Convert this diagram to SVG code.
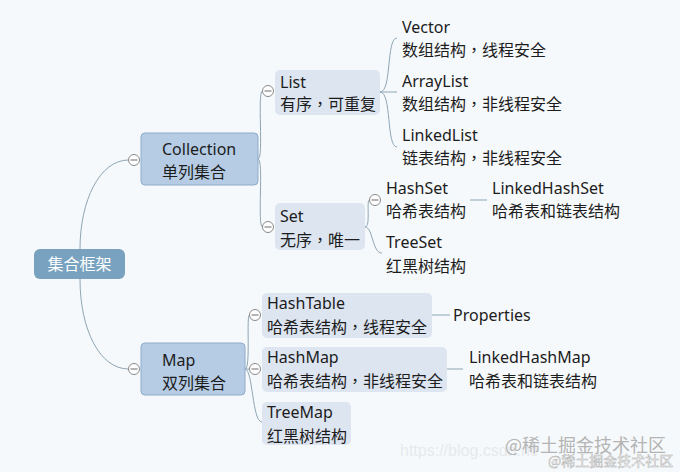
<svg xmlns="http://www.w3.org/2000/svg" width="680" height="472" viewBox="0 0 680 472">
<style>
text{font-family:"Noto Sans","Noto Sans CJK SC",sans-serif;font-size:16px;fill:#1c1c1c}
.cm{font-family:"Noto Sans CJK TC",sans-serif}
.root{fill:#78a2c0}
.main{fill:#b5cce4;stroke:#8eabcb;stroke-width:1}
.sub{fill:#dde5f0}
.con{fill:none;stroke:#8ea5b4;stroke-width:1}
.cc{fill:#fff;stroke:#8a8a8a;stroke-width:1}
.wm{font-family:"Noto Sans CJK SC",sans-serif;fill:#b4b4b4}
</style>
<defs>
<g id="col"><circle class="cc" cx="0" cy="0" r="5.5"/><line x1="-3.5" y1="0" x2="3.5" y2="0" stroke="#6a6a6a" stroke-width="1"/></g>
</defs>
<rect width="680" height="472" fill="#f6f9fb"/>
<g id="connectors">
<path class="con" d="M80,249 C80,200 100,160 128.5,160"/>
<path class="con" d="M80,279 C80,330 100,369 128.5,369"/>
<path class="con" d="M258,159 C264,159 257,91 262.5,91"/>
<path class="con" d="M258,159 C264,159 257,227 262.5,227"/>
<path class="con" d="M380,92 C392,92 386,38 397,38"/>
<path class="con" d="M380,92 L397,92"/>
<path class="con" d="M380,92 C392,92 386,147 397,147"/>
<path class="con" d="M365,227 C371,227 366,200 369.5,200"/>
<path class="con" d="M365,227 C373,227 372,253 382,253"/>
<path class="con" d="M470,200 L487,200"/>
<path class="con" d="M245,369 C251,369 246,315 249.5,315"/>
<path class="con" d="M245,369 L249.5,369"/>
<path class="con" d="M245,369 C253,369 252,422 262,422"/>
<path class="con" d="M432,315 L450,315"/>
<path class="con" d="M447,369 L463,369"/>
</g>
<g id="root">
<rect class="root" x="34" y="249" width="91" height="30" rx="6"/>
<text x="79.5" y="270" text-anchor="middle" style="fill:#fff">集合框架</text>
</g>
<g id="collection">
<rect class="main" x="141" y="133" width="117" height="52" rx="4"/>
<text x="162" y="155">Collection</text>
<text x="162" y="178">单列集合</text>
<use href="#col" x="134" y="160"/>
</g>
<g id="map">
<rect class="main" x="141" y="343" width="104" height="52" rx="4"/>
<text x="162" y="366">Map</text>
<text x="162" y="389">双列集合</text>
<use href="#col" x="134" y="369"/>
</g>
<g id="list">
<rect class="sub" x="275" y="70" width="105" height="45" rx="5"/>
<text x="280" y="88">List</text>
<text x="280" y="110">有序<tspan class="cm">，</tspan>可重复</text>
<use href="#col" x="268" y="91"/>
</g>
<g id="set">
<rect class="sub" x="275" y="203" width="90" height="47" rx="5"/>
<text x="280" y="222">Set</text>
<text x="280" y="246">无序<tspan class="cm">，</tspan>唯一</text>
<use href="#col" x="268" y="227"/>
</g>
<g id="vector">
<text x="402" y="33">Vector</text>
<text x="402" y="56">数组结构<tspan class="cm">，</tspan>线程安全</text>
</g>
<g id="arraylist">
<text x="402" y="87">ArrayList</text>
<text x="402" y="110">数组结构<tspan class="cm">，</tspan>非线程安全</text>
</g>
<g id="linkedlist">
<text x="402" y="141">LinkedList</text>
<text x="402" y="164">链表结构<tspan class="cm">，</tspan>非线程安全</text>
</g>
<g id="hashset">
<text x="386" y="194">HashSet</text>
<text x="386" y="217">哈希表结构</text>
<use href="#col" x="375" y="200"/>
</g>
<g id="linkedhashset">
<text x="492" y="194">LinkedHashSet</text>
<text x="492" y="217">哈希表和链表结构</text>
</g>
<g id="treeset">
<text x="386" y="248">TreeSet</text>
<text x="386" y="272">红黑树结构</text>
</g>
<g id="hashtable">
<rect class="sub" x="262" y="293" width="170" height="45" rx="5"/>
<text x="267" y="309">HashTable</text>
<text x="267" y="333">哈希表结构<tspan class="cm">，</tspan>线程安全</text>
<use href="#col" x="255" y="315"/>
</g>
<g id="properties">
<text x="453" y="321">Properties</text>
</g>
<g id="hashmap">
<rect class="sub" x="262" y="347" width="185" height="45" rx="5"/>
<text x="267" y="363">HashMap</text>
<text x="267" y="387">哈希表结构<tspan class="cm">，</tspan>非线程安全</text>
<use href="#col" x="255" y="369"/>
</g>
<g id="linkedhashmap">
<text x="469" y="363">LinkedHashMap</text>
<text x="469" y="387">哈希表和链表结构</text>
</g>
<g id="treemap">
<rect class="sub" x="262" y="402" width="89" height="43" rx="5"/>
<text x="267" y="418">TreeMap</text>
<text x="267" y="442">红黑树结构</text>
</g>
<g id="watermark">
<text x="400" y="456" style="font-family:'Liberation Sans',sans-serif;font-size:16px;fill:#e6e9ec">https://blog.csdn.ne</text>
<text x="505" y="452" class="wm" style="font-size:18px">@稀土掘金技术社区</text>
<text x="548" y="466" class="wm" style="font-size:14px;fill:#fff;stroke:#b0b0b0;stroke-width:0.5">@稀土掘金技术社区</text>
</g>
</svg>
